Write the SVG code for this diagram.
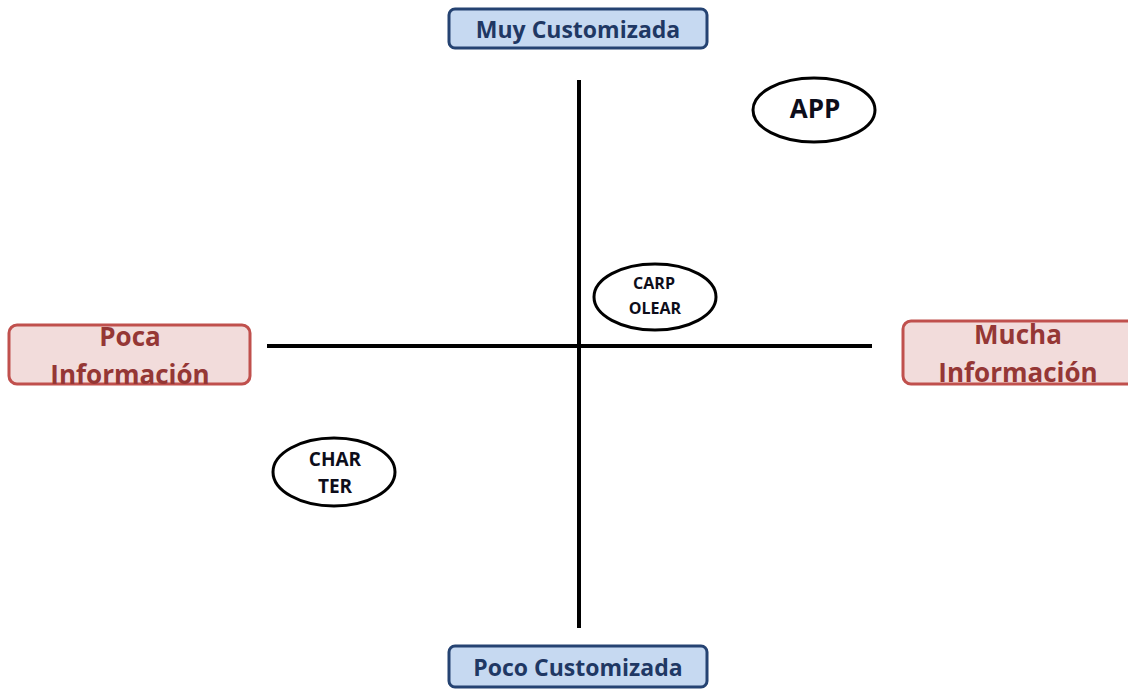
<svg xmlns="http://www.w3.org/2000/svg" width="1128" height="690" viewBox="0 0 1128 690">
<style>
.blue rect{fill:#c6d9f1;stroke:#254372;stroke-width:3}
.blue text{fill:#1f3864;font-family:"Open Sans","Liberation Sans",sans-serif;font-weight:bold;font-size:23px;text-anchor:middle}
.red rect{fill:#f2dcdb;stroke:#c0504d;stroke-width:3}
.red text{fill:#953735;font-family:"Open Sans","Liberation Sans",sans-serif;font-weight:bold;font-size:26px;text-anchor:middle}
.oval ellipse{fill:#fff;stroke:#000;stroke-width:3}
.oval text{fill:#0d0d1a;font-family:"Open Sans","Liberation Sans",sans-serif;font-weight:bold;text-anchor:middle}
.axis line{stroke:#000;stroke-width:4}
</style>
<rect width="1128" height="690" fill="#fff"/>
<g id="connectors" class="axis">
<line x1="267" y1="346" x2="872" y2="346"/>
<line x1="579" y1="80" x2="579" y2="628"/>
</g>
<g id="muy-customizada" class="blue">
<rect x="449" y="9" width="258" height="39" rx="6"/>
<text x="578" y="38">Muy Customizada</text>
</g>
<g id="poco-customizada" class="blue">
<rect x="449" y="646" width="258" height="41" rx="6"/>
<text x="578" y="676">Poco Customizada</text>
</g>
<g id="poca-informacion" class="red">
<rect x="9" y="325" width="241" height="59" rx="8"/>
<text x="130" y="346">Poca</text>
<text x="130" y="384">Información</text>
</g>
<g id="mucha-informacion" class="red">
<rect x="903" y="321" width="235" height="63" rx="8"/>
<text x="1018" y="344">Mucha</text>
<text x="1018" y="382">Información</text>
</g>
<g id="app" class="oval">
<ellipse cx="814" cy="110" rx="61" ry="32"/>
<text x="815" y="118" font-size="26">APP</text>
</g>
<g id="carpolear" class="oval">
<ellipse cx="655" cy="297" rx="61" ry="33"/>
<text x="654" y="289" font-size="16">CARP</text>
<text x="655" y="314" font-size="16">OLEAR</text>
</g>
<g id="charter" class="oval">
<ellipse cx="334" cy="472" rx="61" ry="34"/>
<text x="335" y="466" font-size="19">CHAR</text>
<text x="335" y="493" font-size="19">TER</text>
</g>
</svg>
